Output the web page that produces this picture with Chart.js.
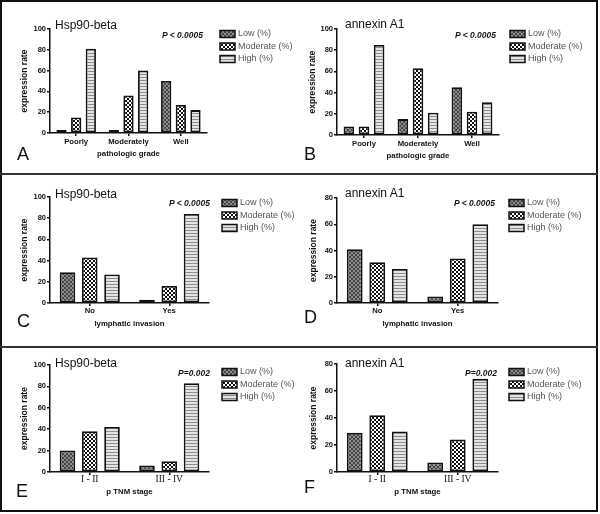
<!DOCTYPE html>
<html lang="en">
<head>
  <meta charset="UTF-8">
  <title>Hsp90-beta and annexin A1 expression rate</title>
  <script src="https://cdn.jsdelivr.net/npm/chart.js"></script>
  <style>
    body { margin: 0; background: #fff; font-family: 'Liberation Sans', Arial, sans-serif; }
    #page { position: relative; width: 600px; height: 514px; overflow: hidden; background: #fff; }
    #frame { position: absolute; left: 0; top: 0; width: 594px; height: 508px; border: 2px solid #111; }
    .sep { position: absolute; left: 0; width: 598px; height: 1.5px; background: #333; }
    canvas { position: absolute; }
    .t { position: absolute; white-space: nowrap; line-height: 1; transform: translateY(-50%); color: #111; }
    .gene { font-size: 12px; }
    .pval { font-size: 8.5px; font-weight: bold; font-style: italic; transform: translate(-100%, -50%); }
    .letter { font-size: 18px; }
  </style>
</head>
<body>
<div id="page">
  <div id="frame"></div>
  <div class="sep" style="top:173px"></div>
  <div class="sep" style="top:346px"></div>
</div>

<script>
  // categories
  const gradeLabels = ['Poorly', 'Moderately', 'Well'];
  const invasionLabels = ['No', 'Yes'];
  const stageLabels = ['I - II', 'III - IV'];
  const seriesNames = ['Low (%)', 'Moderate (%)', 'High (%)'];

  // A - Hsp90-beta / pathologic grade
  const hspGradeLow = [3, 3, 50];
  const hspGradeModerate = [15, 36, 27];
  const hspGradeHigh = [81, 60, 22];
  // B - annexin A1 / pathologic grade
  const anxGradeLow = [8, 15, 45];
  const anxGradeModerate = [8, 63, 22];
  const anxGradeHigh = [85, 21, 31];
  // C - Hsp90-beta / lymphatic invasion
  const hspLymphLow = [29, 3];
  const hspLymphModerate = [43, 16];
  const hspLymphHigh = [27, 84];
  // D - annexin A1 / lymphatic invasion
  const anxLymphLow = [41, 5];
  const anxLymphModerate = [31, 34];
  const anxLymphHigh = [26, 60];
  // E - Hsp90-beta / pTNM stage
  const hspTnmLow = [20, 6];
  const hspTnmModerate = [38, 10];
  const hspTnmHigh = [42, 83];
  // F - annexin A1 / pTNM stage
  const anxTnmLow = [29, 7];
  const anxTnmModerate = [42, 24];
  const anxTnmHigh = [30, 69];

  const yMaxes = [100, 100, 100, 80, 100, 80];
  const pTexts = ['P < 0.0005', 'P < 0.0005', 'P < 0.0005', 'P < 0.0005', 'P=0.002', 'P=0.002'];

  const panels = [
    { letter: 'A', gene: 'Hsp90-beta', cats: gradeLabels, series: [hspGradeLow, hspGradeModerate, hspGradeHigh], xTitle: 'pathologic grade' },
    { letter: 'B', gene: 'annexin A1', cats: gradeLabels, series: [anxGradeLow, anxGradeModerate, anxGradeHigh], xTitle: 'pathologic grade' },
    { letter: 'C', gene: 'Hsp90-beta', cats: invasionLabels, series: [hspLymphLow, hspLymphModerate, hspLymphHigh], xTitle: 'lymphatic invasion' },
    { letter: 'D', gene: 'annexin A1', cats: invasionLabels, series: [anxLymphLow, anxLymphModerate, anxLymphHigh], xTitle: 'lymphatic invasion' },
    { letter: 'E', gene: 'Hsp90-beta', cats: stageLabels, series: [hspTnmLow, hspTnmModerate, hspTnmHigh], xTitle: 'p TNM stage', serif: true },
    { letter: 'F', gene: 'annexin A1', cats: stageLabels, series: [anxTnmLow, anxTnmModerate, anxTnmHigh], xTitle: 'p TNM stage', serif: true }
  ];

  // page positions of each panel (px)
  const geo = [
    { cx: 3,   L: 50,  R: 207, T: 29,  B: 133, xTitleY: 154, yTitleX: 25,  tickY: 142, legX: 220, legY: 34,  gx: 55,  gy: 25,  pR: 203, pY: 35,  lx: 17,  ly: 154 },
    { cx: 300, L: 337, R: 499, T: 29,  B: 135, xTitleY: 156, yTitleX: 313, tickY: 144, legX: 510, legY: 34,  gx: 345, gy: 24,  pR: 496, pY: 35,  lx: 304, ly: 154 },
    { cx: 3,   L: 50,  R: 209, T: 197, B: 303, xTitleY: 324, yTitleX: 25,  tickY: 311, legX: 222, legY: 203, gx: 55,  gy: 194, pR: 210, pY: 203, lx: 17,  ly: 321 },
    { cx: 300, L: 337, R: 498, T: 198, B: 303, xTitleY: 324, yTitleX: 314, tickY: 311, legX: 509, legY: 203, gx: 345, gy: 193, pR: 495, pY: 203, lx: 304, ly: 317 },
    { cx: 3,   L: 50,  R: 209, T: 365, B: 472, xTitleY: 492, yTitleX: 25,  tickY: 479, legX: 222, legY: 372, gx: 55,  gy: 363, pR: 210, pY: 373, lx: 16,  ly: 491 },
    { cx: 300, L: 337, R: 498, T: 364, B: 472, xTitleY: 492, yTitleX: 314, tickY: 479, legX: 509, legY: 372, gx: 345, gy: 363, pR: 497, pY: 373, lx: 304, ly: 487 }
  ];

  function makePattern(size, draw) {
    const c = document.createElement('canvas');
    c.width = size; c.height = size;
    const g = c.getContext('2d');
    draw(g);
    return g.createPattern(c, 'repeat');
  }
  const lowFill = makePattern(4, g => {
    g.fillStyle = '#8e8e8e'; g.fillRect(0, 0, 4, 4);
    g.fillStyle = '#444';
    for (let i = 0; i < 4; i++) { g.fillRect(i, i, 1, 1); g.fillRect(3 - i, i, 1, 1); }
  });
  const modFill = makePattern(4, g => {
    g.fillStyle = '#fff'; g.fillRect(0, 0, 4, 4);
    g.fillStyle = '#111'; g.fillRect(0, 0, 2, 2); g.fillRect(2, 2, 2, 2);
  });
  const highFill = makePattern(3, g => {
    g.fillStyle = '#e4e4e4'; g.fillRect(0, 0, 3, 3);
    g.fillStyle = '#8c8c8c'; g.fillRect(0, 0, 3, 1);
  });
  const fills = [lowFill, modFill, highFill];

  const boxLegend = {
    id: 'boxLegend',
    afterDraw(chart, args, opts) {
      const ctx = chart.ctx;
      ctx.save();
      chart.data.datasets.forEach((ds, i) => {
        const y = opts.y + i * opts.gap;
        ctx.fillStyle = ds.backgroundColor;
        ctx.fillRect(opts.x, y - 3.5, 15, 7);
        ctx.lineWidth = 1.5;
        ctx.strokeStyle = '#111';
        ctx.strokeRect(opts.x, y - 3.5, 15, 7);
        ctx.fillStyle = '#555';
        ctx.font = "9px 'Liberation Sans', Arial, sans-serif";
        ctx.textBaseline = 'middle';
        ctx.fillText(ds.label, opts.x + 18, y);
      });
      ctx.restore();
    }
  };

  Chart.defaults.font.family = "'Liberation Sans', Arial, sans-serif";
  const page = document.getElementById('page');

  function addText(cls, text, x, y) {
    const d = document.createElement('div');
    d.className = 't ' + cls;
    d.textContent = text;
    d.style.left = x + 'px';
    d.style.top = y + 'px';
    page.appendChild(d);
  }

  panels.forEach((p, k) => {
    const g = geo[k];
    const cy = g.T - 27;
    const W = g.cx === 3 ? 294 : 296;
    const H = g.xTitleY + 8 - cy;
    const cv = document.createElement('canvas');
    cv.width = W; cv.height = H;
    cv.style.left = g.cx + 'px';
    cv.style.top = cy + 'px';
    page.appendChild(cv);

    const tickFont = p.serif
      ? { family: "'Liberation Serif', 'Times New Roman', serif", size: 9.5, weight: 'normal' }
      : { size: 7.7, weight: 'bold' };
    const tickLh = tickFont.size * 1.2;

    new Chart(cv, {
      type: 'bar',
      data: {
        labels: p.cats,
        datasets: p.series.map((vals, i) => ({
          label: seriesNames[i],
          data: vals,
          backgroundColor: fills[i],
          borderColor: '#111',
          borderWidth: 1.8,
          borderSkipped: false,
          barPercentage: 0.7,
          categoryPercentage: 0.84
        }))
      },
      options: {
        responsive: false,
        animation: false,
        layout: { padding: { left: 0, top: g.T - cy, right: g.cx + W - g.R, bottom: 0 } },
        plugins: {
          legend: { display: false },
          tooltip: { enabled: false },
          boxLegend: { x: g.legX - g.cx, y: g.legY - cy, gap: 12.5 }
        },
        scales: {
          x: {
            grid: { drawOnChartArea: false, drawTicks: true, tickLength: 3, offset: false, color: '#111', lineWidth: 1.5 },
            border: { display: true, color: '#111', width: 1.5 },
            ticks: { color: '#111', font: tickFont, padding: g.tickY - g.B - 3 - tickLh / 2, maxRotation: 0, autoSkip: false },
            title: { display: true, text: p.xTitle, color: '#111', font: { size: 7.8, weight: 'bold' }, padding: { top: 0, bottom: 8 - 4.7 } },
            afterFit: s => { s.height = cy + H - g.B; }
          },
          y: {
            min: 0,
            max: yMaxes[k],
            grid: { drawOnChartArea: false, drawTicks: true, tickLength: 3, color: '#111', lineWidth: 1.5 },
            border: { display: true, color: '#111', width: 1.5 },
            ticks: { stepSize: 20, color: '#111', font: { size: 7.5, weight: 'bold' }, padding: 1 },
            title: { display: true, text: 'expression rate', color: '#111', font: { size: 8.5, weight: 'bold' }, padding: { top: g.yTitleX - g.cx - 5.1, bottom: 0 } },
            afterFit: s => { s.width = g.L - g.cx; }
          }
        }
      },
      plugins: [boxLegend]
    });

    addText('gene', p.gene, g.gx, g.gy);
    addText('pval', pTexts[k], g.pR, g.pY);
    addText('letter', p.letter, g.lx, g.ly);
  });
</script>
</body>
</html>
